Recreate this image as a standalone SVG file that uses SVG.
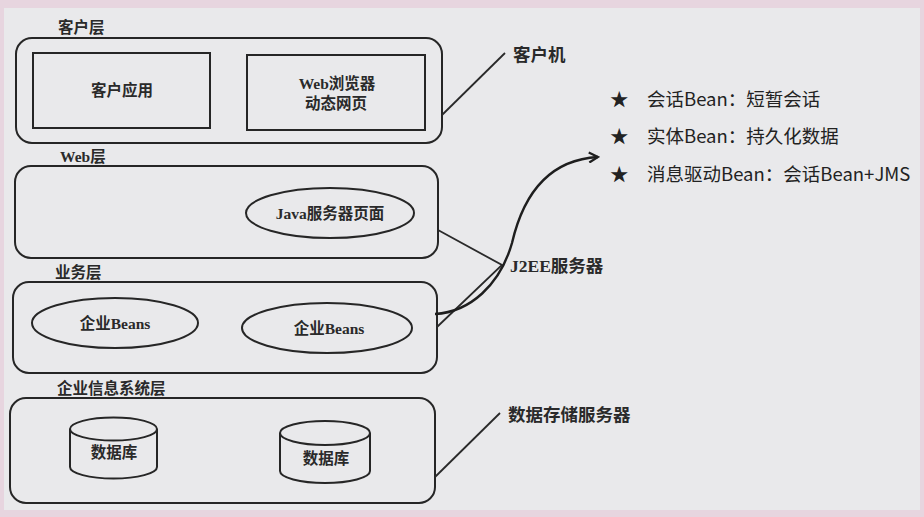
<svg xmlns="http://www.w3.org/2000/svg" width="924" height="517" viewBox="0 0 924 517">
  <defs>
    <style>
      .tier { fill: none; stroke: #262626; stroke-width: 2; }
      .box { fill: none; stroke: #262626; stroke-width: 2; }
      .line { fill: none; stroke: #2a2a2a; stroke-width: 1.8; }
      .arrow { fill: none; stroke: #1e1e1e; stroke-width: 2.4; }
      .lbl { font-family: "Liberation Serif", "Noto Sans CJK SC", serif; font-weight: bold; font-size: 15.5px; fill: #2a2a2a; }
      .side { font-family: "Liberation Serif", "Noto Sans CJK SC", serif; font-weight: bold; font-size: 17.5px; fill: #2a2a2a; }
      .mid { text-anchor: middle; }
      .note { font-family: "Noto Sans CJK SC", "Noto Sans", sans-serif; font-size: 18.5px; fill: #222; }
    </style>
    <marker id="open-head" viewBox="0 0 12 12" refX="10" refY="6" markerWidth="12" markerHeight="12" markerUnits="userSpaceOnUse" orient="auto">
      <path d="M1,1 L10,6 L1,11" fill="none" stroke="#1e1e1e" stroke-width="2.2"/>
    </marker>
  </defs>

  <!-- page frame -->
  <rect x="0" y="0" width="924" height="517" fill="#e7d5df"/>
  <rect x="4" y="8" width="916" height="502" fill="#e9e9eb"/>

  <!-- client tier -->
  <g id="client-tier">
    <text class="lbl" x="58" y="33">客户层</text>
    <rect class="tier" x="16" y="38" width="426" height="105" rx="16"/>
  </g>
  <g id="client-app">
    <rect class="box" x="33" y="53" width="177" height="75"/>
    <text class="lbl mid" x="122" y="96">客户应用</text>
  </g>
  <g id="web-browser">
    <rect class="box" x="247" y="55" width="178" height="75"/>
    <text class="lbl mid" x="337" y="89">Web浏览器</text>
    <text class="lbl mid" x="336" y="109">动态网页</text>
  </g>

  <!-- web tier -->
  <g id="web-tier">
    <text class="lbl" x="60" y="162">Web层</text>
    <rect class="tier" x="15" y="166" width="423" height="92" rx="16"/>
  </g>
  <g id="jsp">
    <ellipse class="box" cx="330" cy="213" rx="84" ry="25"/>
    <text class="lbl mid" x="330" y="219">Java服务器页面</text>
  </g>

  <!-- business tier -->
  <g id="business-tier">
    <text class="lbl" x="55" y="278">业务层</text>
    <rect class="tier" x="13" y="282" width="424" height="91" rx="16"/>
  </g>
  <g id="ejb-1">
    <ellipse class="box" cx="115" cy="323" rx="83" ry="25"/>
    <text class="lbl mid" x="115" y="329">企业Beans</text>
  </g>
  <g id="ejb-2">
    <ellipse class="box" cx="327" cy="328" rx="85" ry="25"/>
    <text class="lbl mid" x="329" y="334">企业Beans</text>
  </g>

  <!-- enterprise information system tier -->
  <g id="eis-tier">
    <text class="lbl" x="57" y="394">企业信息系统层</text>
    <rect class="tier" x="10" y="398" width="425" height="105" rx="16"/>
  </g>
  <g id="db-1">
    <path class="box" d="M70,429 L70,467 A43.5,11.5 0 0 0 157,467 L157,429"/>
    <ellipse class="box" cx="113.5" cy="429" rx="43.5" ry="11.5"/>
    <text class="lbl mid" x="114" y="458">数据库</text>
  </g>
  <g id="db-2">
    <path class="box" d="M280,433 L280,471 A45,12 0 0 0 370,471 L370,433"/>
    <ellipse class="box" cx="325" cy="433" rx="45" ry="12"/>
    <text class="lbl mid" x="326" y="464">数据库</text>
  </g>

  <!-- machine labels -->
  <g id="client-machine">
    <text class="side" x="513" y="61">客户机</text>
  </g>
  <g id="j2ee-server">
    <text class="side" x="510" y="272">J2EE服务器</text>
  </g>
  <g id="data-server">
    <text class="side" x="508" y="421">数据存储服务器</text>
  </g>

  <!-- bean types -->
  <g id="bean-types">
    <text class="note" x="610" y="106">★</text>
    <text class="note" x="647" y="106">会话Bean：短暂会话</text>
    <text class="note" x="610" y="143">★</text>
    <text class="note" x="647" y="143">实体Bean：持久化数据</text>
    <text class="note" x="610" y="181">★</text>
    <text class="note" x="647" y="181">消息驱动Bean：会话Bean+JMS</text>
  </g>

  <!-- connectors -->
  <g id="connectors">
    <line class="line" x1="442" y1="115" x2="505" y2="53"/>
    <polyline class="line" points="438,230 502,265 437,327"/>
    <line class="line" x1="435" y1="477" x2="500" y2="413"/>
    <path class="arrow" d="M435,314 C470,312 500,285 512,243 C522,200 545,160 598,157" marker-end="url(#open-head)"/>
  </g>
</svg>
